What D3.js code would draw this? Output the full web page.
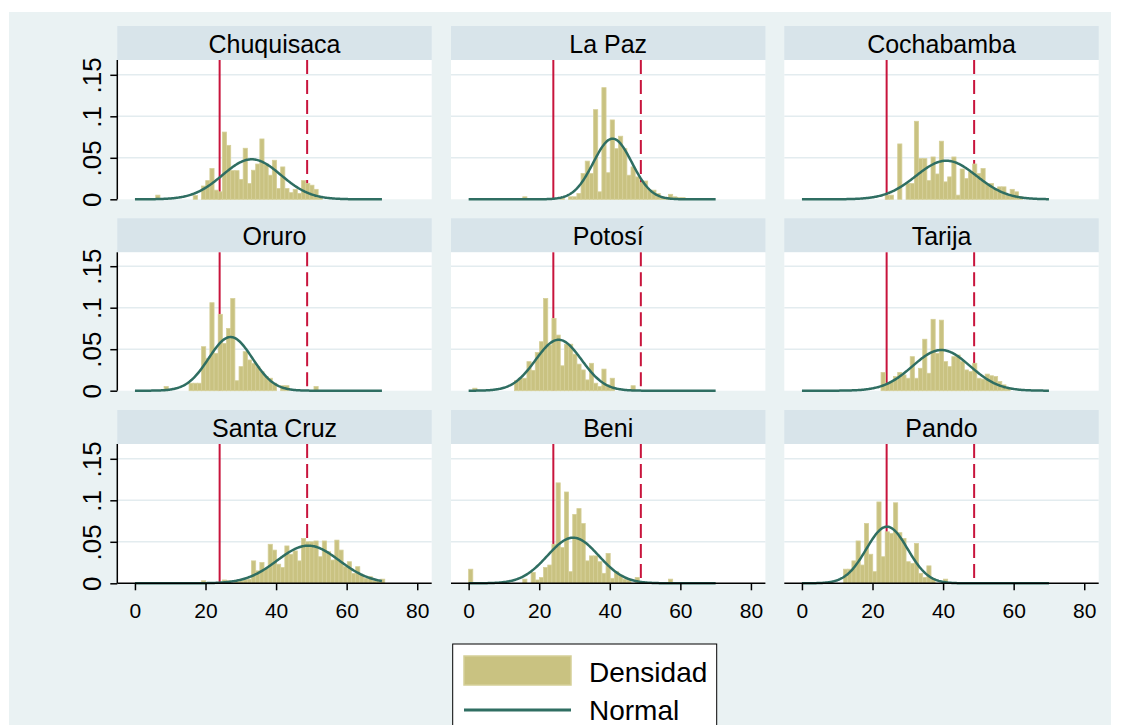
<!DOCTYPE html>
<html>
<head>
<meta charset="utf-8">
<script src="https://cdn.jsdelivr.net/npm/d3@7"></script>
<style>
  html, body { margin: 0; padding: 0; background: #ffffff; }
  svg { display: block; font-family: "Liberation Sans", Arial, sans-serif; }
</style>
</head>
<body>
<svg id="chart" width="1121" height="725"></svg>
<script>
// ---------------- DATA ----------------
const departments = ["Chuquisaca", "La Paz", "Cochabamba", "Oruro", "Potosí", "Tarija", "Santa Cruz", "Beni", "Pando"];
const binWidth = 1.18; // bins start at 0
const xTicks = [0, 20, 40, 60, 80];
const yTicks = [0, 0.05, 0.1, 0.15];
const yTickLabels = ["0", ".05", ".1", ".15"];
const lineSolid = 24;
const lineDashed = 48.8;
const normalRange = [0, 70];

const densChuquisaca = [0,0,0,0,0,0.005,0,0,0,0,0,0,0,0,0.0045,0,
  0.016,0.0225,0.037,0.011,0.009,0.081,0.065,0.0345,0.0345,0.024,0.0615,0.019,0.035,0.0425,0.0727,0.0425,0.029,0.047,0.013,0.039,0.013,0.008,0.012,0.007,0.0225,0.019,0.017,0.012,0.003];
const densLaPaz = [0,0,0,0,0,0,0,0,0,0,0,0,0,0.003,0,0,0,0,0,0,0,0,0.001,0,
  0.003,0.003,0.007,0.031,0.046,0.031,0.108,0.009,0.1345,0.032,0.0956,0.061,0.076,0.061,0.029,0.039,0.027,0.020,0.022,0.011,0.011,0.007,0.003,0.001,0.006,0.003,0.002,0.002];
const densCochabamba = [0,0,0,0,0,0,0,0,0,0,0,0,0,0,0,0,0,0,0,0,
  0.005,0.005,0,0.0667,0,0.019,0.019,0.094,0.049,0.049,0.0225,0.051,0.0305,0.070,0.021,0.027,0.051,0.005,0.0365,0.025,0.033,0.0425,0.031,0.037,0.019,0.019,0.013,0.015,0.015,0.005,0.012,0.009,0.003];
const densOruro = [0,0,0,0,0,0,0,0.005,0,0,0,0,0,
  0.009,0.009,0.009,0.053,0.039,0.106,0.045,0.092,0.057,0.075,0.111,0.012,0.029,0.047,0.037,0.033,0.029,0.023,0.017,0.015,0.009,0,0.006,0.006,0,0,0,0,0,0,0.005];
const densPotosi = [0,0.003,0,0,0,0,0,0,0,0,0,
  0.012,0.015,0.015,0.035,0.0245,0.046,0.059,0.111,0.055,0.087,0.067,0.030,0.056,0.056,0.044,0.032,0.025,0.013,0.033,0.009,0.005,0.026,0.007,0.015,0,0,0,0,0.006];
const densTarija = [0,0,0,0,0,0,0,0,0,0,0,0,0,0,0,0,0,0,0,
  0.022,0.009,0.011,0.017,0.022,0.019,0.015,0.041,0.015,0.027,0.062,0.021,0.086,0.045,0.085,0.035,0.029,0.041,0.043,0.035,0.025,0.023,0.033,0.015,0.014,0.020,0.018,0.017,0.011,0.007,0.004];
const densSantaCruz = [0,0,0,0,0,0,0,0,0,0,0,0,0,0,0,0,0.003,0,0,0,0,0.004,0.003,0,0.002,0.003,0.004,0.005,
  0.027,0.015,0.025,0.018,0.047,0.040,0.023,0.019,0.045,0.035,0.039,0.027,0.054,0.050,0.050,0.051,0.032,0.051,0.038,0.028,0.052,0.040,0.020,0.026,0.012,0.020,0.010,0.006,0.008,0.003,0.003,0.005];
const densBeni = [0.017,0,0,0,0,0,0,0,0,0,0,0,0,0.005,0,
  0.013,0.004,0.007,0.019,0.022,0.047,0.121,0.043,0.110,0.014,0.083,0.090,0.072,0.027,0.033,0.033,0.026,0.012,0.036,0.006,0.014,0.010,0.005,0.004,0,0.007,0,0,0,0,0,0,0,0.005];
const densPando = [0,0,0,0,0,0,0,0,0,0,
  0.017,0.017,0.027,0.051,0.022,0.072,0.035,0.014,0.098,0.032,0.062,0.060,0.097,0.061,0.054,0.026,0.024,0.048,0.012,0.007,0.021,0.006,0,0,0.005];

const densities = [densChuquisaca, densLaPaz, densCochabamba, densOruro, densPotosi, densTarija, densSantaCruz, densBeni, densPando];
const normalMean = [33.1, 40.8, 40.9, 27.1, 25.5, 39.5, 49.1, 29.6, 24.1];
const normalSD   = [8.28, 5.46, 8.58, 6.17, 6.5, 8.14, 8.8, 7.26, 5.85];

// ---------------- STYLE / LAYOUT ----------------
const C = {
  bg: "#eaf2f3", strip: "#d8e4ea", grid: "#e3ecef",
  bar: "#c9c281", barStroke: "#d5cf98", normal: "#2f6e62", red: "#c8143c"
};
const colLeft = [117.3, 451, 784.3];
const panelW = 314.4;
const stripTop = [26, 218.3, 410];
const stripH = 34;
const zeroY = [199.3, 390.7, 583.3];
const FONT = "Liberation Sans, Arial, sans-serif";

const svg = d3.select("#chart");
svg.append("rect").attr("x", 9).attr("y", 12).attr("width", 1102).attr("height", 720).attr("fill", C.bg);

departments.forEach((name, k) => {
  const r = Math.floor(k / 3), c = k % 3;
  const L = colLeft[c], top = stripTop[r] + stripH, bottom = zeroY[r];
  const x = d3.scaleLinear().domain([-5, 84.1]).range([L, L + panelW]);
  const y = d3.scaleLinear().domain([0, (bottom - top) / 830]).range([bottom, top]);
  const g = svg.append("g");

  // strip
  g.append("rect").attr("x", L).attr("y", stripTop[r]).attr("width", panelW).attr("height", stripH).attr("fill", C.strip);
  g.append("text").attr("x", L + panelW / 2).attr("y", stripTop[r] + 26.5)
    .attr("text-anchor", "middle").attr("font-size", 25).attr("fill", "#000").text(name);

  // plot region
  g.append("rect").attr("x", L).attr("y", top).attr("width", panelW).attr("height", bottom - top).attr("fill", "#fff");
  g.selectAll("line.grid").data(yTicks.slice(1)).join("line")
    .attr("x1", L).attr("x2", L + panelW).attr("y1", d => y(d)).attr("y2", d => y(d))
    .attr("stroke", C.grid).attr("stroke-width", 1.6);

  // reference lines
  g.append("line").attr("x1", x(lineSolid)).attr("x2", x(lineSolid)).attr("y1", top).attr("y2", bottom)
    .attr("stroke", C.red).attr("stroke-width", 2);
  g.append("line").attr("x1", x(lineDashed)).attr("x2", x(lineDashed)).attr("y1", top).attr("y2", bottom)
    .attr("stroke", C.red).attr("stroke-width", 2).attr("stroke-dasharray", "14,6");

  // bars
  const bars = densities[k].map((d, i) => ({ i, d })).filter(b => b.d > 0);
  g.selectAll("rect.bar").data(bars).join("rect")
    .attr("x", b => x(b.i * binWidth))
    .attr("width", b => x((b.i + 1) * binWidth) - x(b.i * binWidth))
    .attr("y", b => y(b.d))
    .attr("height", b => bottom - y(b.d))
    .attr("fill", C.bar).attr("stroke", C.barStroke).attr("stroke-width", 0.8);

  // normal curve
  const m = normalMean[k], s = normalSD[k];
  const pts = d3.range(normalRange[0], normalRange[1] + 0.001, 0.25)
    .map(v => [v, Math.exp(-0.5 * ((v - m) / s) ** 2) / (s * Math.sqrt(2 * Math.PI))]);
  g.append("path").datum(pts)
    .attr("d", d3.line().x(p => x(p[0])).y(p => y(p[1])))
    .attr("fill", "none").attr("stroke", C.normal).attr("stroke-width", 2.5);

  // y axis (first column)
  if (c === 0) {
    const ya = d3.axisLeft(y).tickValues(yTicks).tickFormat((d, i) => yTickLabels[i]).tickSize(7).tickPadding(4);
    const ag = g.append("g").attr("transform", `translate(${L},0)`).call(ya);
    ag.select(".domain").attr("d", `M0,${top}V${bottom}`).attr("stroke", "#000").attr("stroke-width", 1.5);
    ag.selectAll(".tick line").attr("stroke", "#000").attr("stroke-width", 1.5);
    ag.selectAll(".tick text").attr("font-size", 26).attr("font-family", FONT)
      .attr("fill", "#000").attr("text-anchor", "middle").attr("dy", 0).attr("x", 0).attr("y", 0)
      .attr("transform", "translate(-16,0) rotate(-90)");
  }
  // x axis (last row)
  if (r === 2) {
    const xa = d3.axisBottom(x).tickValues(xTicks).tickSize(7).tickPadding(6);
    const ag = g.append("g").attr("transform", `translate(0,${bottom})`).call(xa);
    ag.select(".domain").attr("d", `M${L},0H${L + panelW}`).attr("stroke", "#000").attr("stroke-width", 1.5);
    ag.selectAll(".tick line").attr("stroke", "#000").attr("stroke-width", 1.5);
    ag.selectAll(".tick text").attr("font-size", 21).attr("font-family", FONT)
      .attr("fill", "#000").attr("dy", 0).attr("y", 35);
  }
});

// legend
const lg = svg.append("g");
lg.append("rect").attr("x", 452.7).attr("y", 644).attr("width", 264).attr("height", 100)
  .attr("fill", "#fff").attr("stroke", "#000").attr("stroke-width", 1);
lg.append("rect").attr("x", 464).attr("y", 656).attr("width", 107).attr("height", 29)
  .attr("fill", C.bar).attr("stroke", C.barStroke).attr("stroke-width", 1.5);
lg.append("text").attr("x", 589).attr("y", 682).attr("font-size", 28).attr("fill", "#000").text("Densidad");
lg.append("line").attr("x1", 464).attr("x2", 571).attr("y1", 710).attr("y2", 710)
  .attr("stroke", C.normal).attr("stroke-width", 3);
lg.append("text").attr("x", 589).attr("y", 719.5).attr("font-size", 28).attr("fill", "#000").text("Normal");
</script>
</body>
</html>
